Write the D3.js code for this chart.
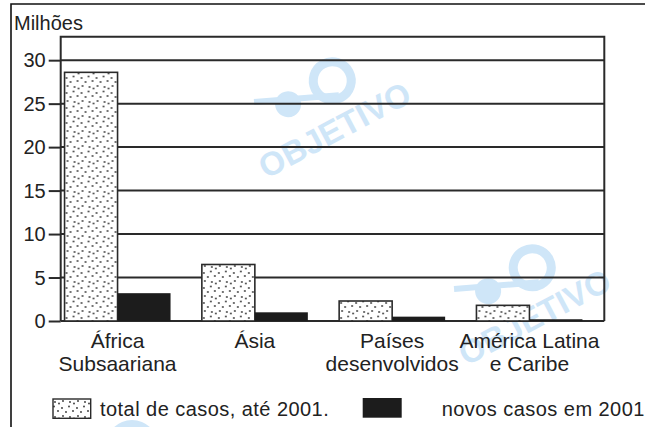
<!DOCTYPE html>
<html>
<head>
<meta charset="utf-8">
<script src="https://cdn.jsdelivr.net/npm/d3@7"></script>
<style>
  html, body { margin: 0; padding: 0; background: #fff; }
  svg { display: block; font-family: 'Liberation Sans', Arial, Helvetica, sans-serif; }
</style>
</head>
<body>
<div id="chart"></div>
<script>
// data
const regions = ['África|Subsaariana', 'Ásia', 'Países|desenvolvidos', 'América Latina|e Caribe'];
const totalCases = [28.6, 6.5, 2.3, 1.8];   // total de casos, até 2001 (milhões)
const newCases = [3.2, 1.0, 0.5, 0.2];      // novos casos em 2001 (milhões)
const seriesKeys = ['total', 'novos'];
const seriesLabels = ['total de casos, até 2001.', 'novos casos em 2001'];
const yTicks = [0, 5, 10, 15, 20, 25, 30];

const width = 645;
const height = 427;
const frame = { left: 60.7, right: 604.3, top: 36.7, bottom: 321 };
const ink = '#2a2a2a';
const wmColor = '#cfe6f8';

const rows = regions.map((r, i) => ({ region: r, total: totalCases[i], novos: newCases[i] }));

const svg = d3.select('#chart').append('svg')
  .attr('width', width)
  .attr('height', height);

// dotted fill
const defs = svg.append('defs');
const pat = defs.append('pattern')
  .attr('id', 'dots')
  .attr('patternUnits', 'userSpaceOnUse')
  .attr('width', 15)
  .attr('height', 15);
pat.append('rect').attr('width', 15).attr('height', 15).attr('fill', '#fff');
[[2, 3], [9, 1.5], [6, 7], [13, 6], [3, 11], [10, 12], [14, 13.5]].forEach(([cx, cy]) => {
  pat.append('circle').attr('cx', cx).attr('cy', cy).attr('r', 0.9).attr('fill', '#333');
});

defs.append('clipPath').attr('id', 'inner')
  .append('rect').attr('x', 12).attr('y', 5).attr('width', width).attr('height', height);

// watermarks (behind everything)
const wm = svg.append('g').attr('clip-path', 'url(#inner)');
function watermark(cx, cy, withText) {
  const g = wm.append('g').attr('transform', `translate(${cx},${cy}) rotate(-28)`);
  g.append('circle').attr('cx', -29).attr('cy', -56).attr('r', 13).attr('fill', wmColor);
  g.append('circle').attr('cx', 21).attr('cy', -56).attr('r', 19)
    .attr('fill', 'none').attr('stroke', wmColor).attr('stroke-width', 9);
  g.append('path').attr('d', 'M-58,-74 L20,-40').attr('stroke', wmColor).attr('stroke-width', 6);
  if (withText) {
    g.append('text')
      .attr('text-anchor', 'middle')
      .attr('font-size', 33)
      .attr('font-weight', 'bold')
      .attr('fill', wmColor)
      .text('OBJETIVO');
  }
}
watermark(340, 140, true);
watermark(540, 327, true);
wm.append('circle').attr('cx', 132).attr('cy', 446).attr('r', 26).attr('fill', wmColor);

// scales
const x0 = d3.scaleBand()
  .domain(regions)
  .range([48.9, 598.1])
  .paddingInner(0.228)
  .paddingOuter(0.114);

const x1 = d3.scaleBand()
  .domain(seriesKeys)
  .range([0, x0.bandwidth()]);

const y = d3.scaleLinear()
  .domain([0, 32.7])
  .range([frame.bottom, frame.top]);

// gridlines
svg.append('g')
  .selectAll('line')
  .data(yTicks)
  .join('line')
    .attr('x1', frame.left)
    .attr('x2', frame.right)
    .attr('y1', d => y(d))
    .attr('y2', d => y(d))
    .attr('stroke', ink)
    .attr('stroke-width', 2);

// bars
const groups = svg.append('g')
  .selectAll('g')
  .data(rows)
  .join('g')
    .attr('transform', d => `translate(${x0(d.region)},0)`);

groups.selectAll('rect')
  .data(d => seriesKeys.map(k => ({ key: k, value: d[k] })))
  .join('rect')
    .attr('x', d => x1(d.key))
    .attr('y', d => y(d.value))
    .attr('width', x1.bandwidth())
    .attr('height', d => y(0) - y(d.value))
    .attr('fill', d => d.key === 'total' ? 'url(#dots)' : '#1c1c1c')
    .attr('stroke', d => d.key === 'total' ? ink : 'none')
    .attr('stroke-width', 1.6);

// frame
svg.append('path')
  .attr('d', `M${frame.left},${frame.bottom}V${frame.top}H${frame.right}V${frame.bottom}`)
  .attr('fill', 'none')
  .attr('stroke', ink)
  .attr('stroke-width', 2);

// y axis
const yAxis = svg.append('g')
  .attr('transform', `translate(${frame.left},0)`)
  .call(d3.axisLeft(y).tickValues(yTicks).tickSize(12).tickPadding(3));
yAxis.select('.domain').remove();
yAxis.selectAll('.tick line').attr('stroke', ink).attr('stroke-width', 2);
yAxis.selectAll('.tick text')
  .attr('font-size', 20)
  .attr('font-family', null)
  .attr('fill', '#222')
  .attr('dy', '0.34em');

// category labels
const catLabels = svg.append('g')
  .selectAll('text')
  .data(regions)
  .join('text')
    .attr('x', d => x0(d) + x0.bandwidth() / 2)
    .attr('y', 347.7)
    .attr('text-anchor', 'middle')
    .attr('font-size', 21)
    .attr('fill', '#222');
catLabels.selectAll('tspan')
  .data(d => d.split('|'))
  .join('tspan')
    .attr('x', function() { return d3.select(this.parentNode).attr('x'); })
    .attr('dy', (d, i) => i === 0 ? 0 : 23)
    .text(d => d);

// y title
svg.append('text')
  .attr('x', 14)
  .attr('y', 30)
  .attr('font-size', 20)
  .attr('fill', '#222')
  .text('Milhões');

// outer border
svg.append('path')
  .attr('d', `M11,${height}V4H${width}`)
  .attr('fill', 'none')
  .attr('stroke', '#111')
  .attr('stroke-width', 1.6);

// legend
const legend = svg.append('g');
const legendItems = [
  { key: 'total', label: seriesLabels[0], box: [53, 399, 37.7, 19.3], tx: 100 },
  { key: 'novos', label: seriesLabels[1], box: [362.7, 398, 39, 19.7], tx: 441.7 }
];
legendItems.forEach(it => {
  legend.append('rect')
    .attr('x', it.box[0]).attr('y', it.box[1])
    .attr('width', it.box[2]).attr('height', it.box[3])
    .attr('fill', it.key === 'total' ? 'url(#dots)' : '#1c1c1c')
    .attr('stroke', it.key === 'total' ? ink : 'none')
    .attr('stroke-width', 1.4);
  legend.append('text')
    .attr('x', it.tx)
    .attr('y', 416)
    .attr('font-size', 20)
    .attr('letter-spacing', 0.45)
    .attr('fill', '#222')
    .text(it.label);
});
</script>
</body>
</html>
